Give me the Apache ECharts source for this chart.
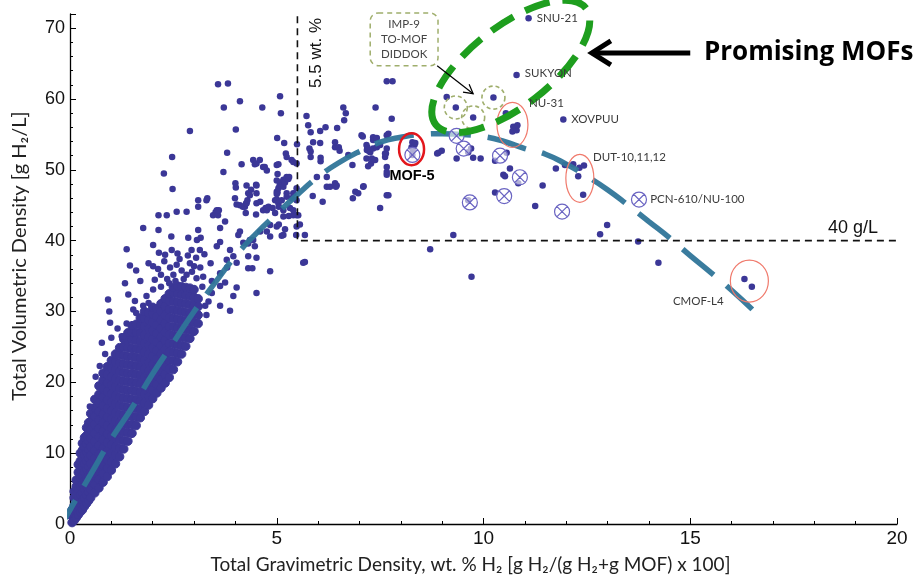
<!DOCTYPE html>
<html>
<head>
<meta charset="utf-8">
<title>Total volumetric vs gravimetric H2 density of MOFs</title>
<script src="https://cdn.jsdelivr.net/npm/echarts@6/dist/echarts.min.js"></script>
<style>
  html, body { margin: 0; padding: 0; background: #fff; }
  #chart { width: 919px; height: 579px; }
</style>
</head>
<body>
<div id="chart"></div>
<script>
// ── colours ──
const DOT = '#3b3797'
const CROSS = '#6a64c2'
const TREND = '#2f7599'
const GREEN = '#1e9e1e'
const OLIVE = '#9fae6c'
const RED_THIN = '#f07a6c'
const RED = '#e3161c'
const LABEL = '#3a3a3a'

// ── data (x = wt.% H2, y = g H2/L) ──
// dense cloud of screened structures, read column by column
const coreColumns = [
  [0.05, [0.2, 1.1, 2.0]],
  [0.1, [0.5, 1.5, 2.6, 3.7, 4.6]],
  [0.15, [0.9, 2.0, 3.1, 4.2, 5.3, 6.2]],
  [0.2, [1.3, 2.5, 3.7, 4.9, 6.1, 7.3, 8.4]],
  [0.25, [1.7, 2.9, 4.1, 5.3, 6.5, 7.7, 8.9, 10.0]],
  [0.3, [2.0, 3.2, 4.4, 5.6, 6.8, 8.0, 9.2, 10.4, 11.4]],
  [0.35, [2.5, 3.7, 4.9, 6.1, 7.3, 8.5, 9.7, 10.9, 12.2]],
  [0.4, [2.9, 4.1, 5.3, 6.5, 7.7, 8.9, 10.1, 11.3, 12.5, 13.6]],
  [0.45, [3.3, 4.5, 5.7, 6.9, 8.1, 9.3, 10.5, 11.7, 12.9, 14.3]],
  [0.5, [3.7, 4.9, 6.1, 7.3, 8.5, 9.7, 10.9, 12.1, 13.3, 14.5, 15.6]],
  [0.6, [4.4, 5.6, 6.8, 8.0, 9.2, 10.4, 11.6, 12.8, 14.0, 15.2, 16.4, 17.6]],
  [0.7, [5.1, 6.3, 7.5, 8.7, 9.9, 11.1, 12.3, 13.5, 14.7, 15.9, 17.1, 18.3, 19.5]],
  [0.8, [5.9, 7.1, 8.3, 9.5, 10.7, 11.9, 13.1, 14.3, 15.5, 16.7, 17.9, 19.1, 20.3, 21.3]],
  [0.9, [6.7, 7.9, 9.1, 10.3, 11.5, 12.7, 13.9, 15.1, 16.3, 17.5, 18.7, 19.9, 21.1, 22.2]],
  [1.0, [7.6, 8.8, 10.0, 11.2, 12.4, 13.6, 14.8, 16.0, 17.2, 18.4, 19.6, 20.8, 22.0, 23.1]],
  [1.1, [8.5, 9.7, 10.9, 12.1, 13.3, 14.5, 15.7, 16.9, 18.1, 19.3, 20.5, 21.7, 22.9, 24.0]],
  [1.2, [9.5, 10.7, 11.9, 13.1, 14.3, 15.5, 16.7, 17.9, 19.1, 20.3, 21.5, 22.7, 23.9, 24.9]],
  [1.3, [10.6, 11.8, 13.0, 14.2, 15.4, 16.6, 17.8, 19.0, 20.2, 21.4, 22.6, 23.8, 25.0, 26.1]],
  [1.4, [11.7, 12.9, 14.1, 15.3, 16.5, 17.7, 18.9, 20.1, 21.3, 22.5, 23.7, 24.9, 26.0, 27.0]],
  [1.5, [12.8, 14.0, 15.2, 16.4, 17.6, 18.8, 20.0, 21.2, 22.4, 23.6, 24.8, 26.0, 27.1, 28.0]],
  [1.6, [13.9, 15.1, 16.3, 17.5, 18.7, 19.9, 21.1, 22.3, 23.5, 24.7, 25.9, 27.0, 28.2]],
  [1.7, [15.0, 16.2, 17.4, 18.6, 19.8, 21.0, 22.2, 23.4, 24.6, 25.8, 27.0, 28.1, 29.1]],
  [1.8, [15.9, 17.1, 18.3, 19.5, 20.7, 21.9, 23.1, 24.3, 25.5, 26.7, 27.9, 29.0, 30.0]],
  [1.9, [16.8, 18.0, 19.2, 20.4, 21.6, 22.8, 24.0, 25.2, 26.4, 27.6, 28.8, 29.8]],
  [2.0, [17.7, 18.9, 20.1, 21.3, 22.5, 23.7, 24.9, 26.1, 27.3, 28.5, 29.7, 30.6]],
  [2.1, [18.5, 19.7, 20.9, 22.1, 23.3, 24.5, 25.7, 26.9, 28.1, 29.3, 30.4]],
  [2.2, [19.2, 20.4, 21.6, 22.8, 24.0, 25.2, 26.4, 27.6, 28.8, 30.0, 31.1]],
  [2.3, [19.9, 21.1, 22.3, 23.5, 24.7, 25.9, 27.1, 28.3, 29.5, 30.7, 31.8]],
  [2.4, [20.7, 21.9, 23.1, 24.3, 25.5, 26.7, 27.9, 29.1, 30.3, 31.5, 32.5]],
  [2.5, [21.8, 23.0, 24.2, 25.4, 26.6, 27.8, 29.0, 30.2, 31.4, 32.6, 33.4]],
  [2.6, [22.9, 24.1, 25.3, 26.5, 27.7, 28.9, 30.1, 31.3, 32.5, 33.6]],
  [2.7, [24.0, 25.2, 26.4, 27.6, 28.8, 30.0, 31.2, 32.4, 33.5]],
  [2.8, [25.1, 26.3, 27.5, 28.7, 29.9, 31.1, 32.3, 33.4]],
  [2.9, [26.2, 27.4, 28.6, 29.8, 31.0, 32.2, 33.3]],
  [3.0, [27.2, 28.4, 29.6, 30.8, 32.0, 33.1]],
  [3.1, [28.3, 29.5, 30.7, 31.8]],
]

// scattered structures outside the dense cloud
const mofPoints = [
  // x < 2
  [0.48, 16.6], [0.62, 20.8], [0.72, 22.3], [0.77, 25.6], [0.85, 24.0], [0.92, 31.7], [0.95, 30.0],
  [0.97, 28.4], [1.0, 26.3], [1.15, 27.6], [1.25, 26.5], [1.29, 26.5], [1.33, 34.0], [1.37, 28.3],
  [1.37, 38.8], [1.41, 32.4], [1.45, 36.5], [1.53, 30.3], [1.57, 31.5], [1.6, 29.8], [1.6, 35.8],
  [1.7, 34.3], [1.77, 30.8], [1.77, 41.8], [1.85, 32.2], [1.9, 31.2], [1.9, 36.8],
  // 2 – 3.5
  [2.01, 33.1], [2.01, 36.4], [2.01, 39.4], [2.05, 34.5], [2.13, 36.0], [2.14, 41.5], [2.14, 43.6],
  [2.15, 38.3], [2.2, 33.5], [2.2, 35.2], [2.27, 49.5], [2.28, 37.1], [2.3, 38.0], [2.34, 43.6],
  [2.35, 34.6], [2.4, 34.0], [2.42, 36.2], [2.45, 40.6], [2.46, 38.7], [2.47, 51.8], [2.48, 47.3],
  [2.5, 35.2], [2.55, 34.3], [2.58, 36.6], [2.58, 44.1], [2.6, 38.2], [2.65, 37.4], [2.7, 35.8],
  [2.75, 34.6], [2.82, 35.2], [2.82, 44.1], [2.85, 37.9], [2.86, 40.4], [2.9, 36.8], [2.9, 55.5],
  [2.94, 38.7], [2.95, 35.6], [3.0, 36.4], [3.05, 37.6], [3.06, 34.7], [3.07, 40.1], [3.1, 41.5],
  [3.1, 44.8], [3.1, 45.7], [3.14, 38.7], [3.15, 36.2], [3.16, 40.4], [3.2, 33.5], [3.22, 34.9],
  [3.25, 38.1], [3.27, 30.8], [3.3, 29.5], [3.3, 45.7], [3.32, 46.0], [3.35, 31.4], [3.4, 36.8],
  [3.43, 32.6], [3.43, 34.3], [3.46, 43.6],
  // 3.5 – 4.5
  [3.52, 44.0], [3.55, 39.2], [3.55, 44.3], [3.58, 43.6], [3.58, 62.1], [3.6, 44.3], [3.63, 30.8],
  [3.63, 33.6], [3.63, 35.4], [3.63, 39.8], [3.63, 41.8], [3.71, 49.7], [3.72, 58.8], [3.75, 34.1],
  [3.75, 42.7], [3.79, 37.3], [3.8, 36.2], [3.8, 52.4], [3.82, 62.2], [3.87, 30.1], [3.87, 38.7],
  [3.95, 32.2], [3.95, 37.8], [3.99, 46.0], [4.0, 48.1], [4.01, 47.5], [4.01, 55.7], [4.03, 33.4],
  [4.03, 36.9], [4.03, 45.1], [4.07, 40.8], [4.11, 41.3], [4.11, 45.0], [4.11, 59.7], [4.15, 50.8],
  [4.18, 44.8], [4.19, 39.7], [4.23, 44.8], [4.25, 43.9], [4.26, 45.3], [4.27, 45.3], [4.27, 47.8],
  [4.29, 45.7], [4.31, 36.1], [4.31, 37.8], [4.31, 39.6], [4.31, 46.7], [4.35, 40.1], [4.35, 46.4],
  [4.38, 47.2], [4.41, 36.1], [4.43, 40.1], [4.43, 51.4], [4.47, 39.2], [4.47, 50.8],
  // 4.5 – 5.5
  [4.5, 43.7], [4.5, 47.9], [4.51, 32.6], [4.51, 37.6], [4.51, 45.3], [4.51, 46.7], [4.51, 47.8],
  [4.51, 50.9], [4.59, 51.4], [4.6, 41.3], [4.6, 45.5], [4.65, 58.8], [4.67, 44.3], [4.67, 50.4],
  [4.71, 50.4], [4.73, 44.6], [4.76, 41.3], [4.76, 44.3], [4.76, 49.9], [4.8, 44.8], [4.84, 35.7],
  [4.84, 40.6], [4.84, 42.2], [4.9, 44.6], [4.96, 43.9], [4.96, 45.7], [5.0, 42.0], [5.0, 45.8],
  [5.0, 46.6], [5.0, 46.9], [5.0, 48.5], [5.0, 50.7], [5.01, 54.5], [5.02, 46.8], [5.02, 49.4],
  [5.04, 45.3], [5.04, 47.4], [5.04, 50.8], [5.05, 42.3], [5.05, 44.8], [5.07, 47.8], [5.08, 48.2],
  [5.08, 60.4], [5.1, 58.0], [5.12, 40.7], [5.12, 45.7], [5.12, 47.8], [5.16, 40.8], [5.16, 43.4],
  [5.16, 44.3], [5.16, 47.6], [5.16, 48.6], [5.18, 53.8], [5.2, 41.6], [5.2, 48.2], [5.22, 52.3],
  [5.24, 46.2], [5.24, 46.7], [5.24, 48.8], [5.24, 49.0], [5.24, 51.8], [5.28, 48.7], [5.29, 43.5],
  [5.3, 49.0], [5.32, 44.6], [5.36, 46.0], [5.36, 51.4], [5.4, 43.6], [5.4, 44.3], [5.4, 46.7],
  [5.4, 51.1], [5.47, 40.8], [5.48, 42.0], [5.48, 43.6], [5.48, 45.7], [5.48, 47.4], [5.48, 50.9],
  [5.49, 53.6],
  // 5.5 – 7
  [5.52, 43.6], [5.56, 42.3], [5.64, 36.9], [5.68, 37.0], [5.68, 40.8], [5.72, 57.6], [5.76, 56.3],
  [5.79, 53.0], [5.82, 51.8], [5.82, 52.6], [5.82, 55.3], [5.87, 46.3], [5.88, 53.9], [5.97, 49.0],
  [6.05, 53.8], [6.05, 55.5], [6.06, 51.2], [6.06, 51.7], [6.11, 45.5], [6.18, 56.0], [6.21, 47.6],
  [6.21, 49.0], [6.29, 47.6], [6.41, 48.1], [6.41, 53.2], [6.41, 53.9], [6.43, 47.6], [6.45, 47.8],
  [6.46, 55.9], [6.5, 53.2], [6.52, 52.7], [6.61, 58.8], [6.63, 57.0], [6.67, 58.0], [6.73, 52.1],
  [6.83, 50.7], [6.84, 46.0], [6.9, 46.9], [6.97, 46.7],
  // 7 – 8.5
  [7.05, 54.9], [7.08, 54.7], [7.09, 47.6], [7.1, 47.7], [7.17, 51.6], [7.17, 53.5], [7.18, 52.8],
  [7.19, 53.2], [7.21, 50.5], [7.22, 52.7], [7.26, 52.5], [7.28, 50.9], [7.3, 51.6], [7.33, 53.0],
  [7.33, 54.2], [7.33, 54.6], [7.38, 51.4], [7.39, 58.8], [7.42, 53.2], [7.42, 54.5], [7.5, 44.6],
  [7.5, 53.5], [7.62, 51.8], [7.62, 52.3], [7.64, 52.3], [7.66, 46.4], [7.66, 49.3], [7.66, 49.7],
  [7.66, 50.4], [7.66, 53.0], [7.66, 54.9], [7.66, 62.5], [7.7, 46.4], [7.7, 55.1], [7.78, 57.2],
  [7.8, 62.5],
  [8.26, 53.2], [8.28, 52.1], [8.28, 53.9], [8.29, 52.8], [8.33, 53.5], [8.35, 53.8],
  // 8.5 – 17
  [8.71, 38.8], [8.88, 52.3], [8.91, 52.4], [8.99, 52.7], [9.11, 60.3], [9.27, 40.8], [9.33, 58.8],
  [9.35, 51.6], [9.63, 45.7], [9.63, 52.5], [9.7, 53.0], [9.71, 34.9], [9.75, 51.7], [9.75, 57.4],
  [9.93, 51.6], [10.24, 60.2], [10.28, 46.8], [10.28, 51.3], [10.48, 49.3], [10.52, 49.1],
  [10.54, 58.0], [10.56, 52.4], [10.64, 50.2], [10.7, 55.4], [10.72, 56.1], [10.8, 55.6],
  [10.8, 63.4], [10.82, 56.3], [10.84, 48.1], [11.09, 71.4], [11.25, 44.9], [11.43, 47.8],
  [11.75, 50.2], [11.93, 57.1], [11.97, 50.7], [12.17, 50.8], [12.29, 49.1], [12.32, 50.3],
  [12.41, 46.5], [12.43, 50.6], [12.82, 40.9], [12.99, 42.2], [13.74, 39.9], [14.23, 36.9],
  [16.31, 34.6], [16.49, 33.5],
]

// benchmark materials drawn as crossed circles
const benchmarkPoints = [
  [8.28, 52.1], [9.35, 54.8], [9.52, 53.0], [10.4, 52.0], [10.88, 48.95],
  [10.5, 46.3], [9.67, 45.4], [11.9, 44.1], [13.76, 45.8],
]

// IMP-9, TO-MOF, DIDDOK (dashed olive rings)
const flaggedPoints = [[9.33, 58.8], [9.75, 57.4], [10.24, 60.2]]

// fitted upper-bound trend (dashed teal curve)
const trendCurve = [
  [-0.35, -1.6], [0, 2], [0.5, 7], [1, 12], [1.5, 16.4], [2, 21.2], [2.5, 25.6], [3, 30],
  [3.5, 34], [4, 37.8], [4.5, 41], [5, 43.8], [5.5, 46.5], [6, 49], [6.5, 51], [7, 52.6],
  [7.5, 53.9], [8, 54.6], [8.5, 55], [9, 55.1], [9.5, 55], [10, 54.7], [10.5, 54], [11, 53],
  [11.5, 52.2], [12, 50.8], [12.5, 49.1], [13, 47.2], [13.5, 45], [14, 42.7], [14.5, 40.4],
  [15, 37.9], [15.5, 35.5], [16, 33], [16.5, 30.3],
]

// targets: 5.5 wt.% and 40 g/L
const targetPath = [[5.5, 71.7], [5.5, 40], [20.2, 40]]

const coreData = []
coreColumns.forEach(([x, ys]) => ys.forEach((y) => coreData.push([x, y])))

// crossed circle symbol
const CROSSED = 'path://M10 0A10 10 0 1 1 10 20A10 10 0 1 1 10 0ZM2.93 2.93L17.07 17.07M17.07 2.93L2.93 17.07'

const chart = echarts.init(document.getElementById('chart'))

const axisCommon = {
  type: 'value',
  axisLine: { show: true, onZero: false, lineStyle: { color: '#000', width: 1.3 } },
  axisTick: { show: true, inside: true, length: 6, lineStyle: { color: '#000', width: 1 } },
  minorTick: { show: true, splitNumber: 5, length: 3, lineStyle: { color: '#000', width: 1 } },
  splitLine: { show: false },
  nameLocation: 'middle',
}

chart.setOption({
  animation: false,
  backgroundColor: '#fff',
  grid: { left: 70, right: 22, top: 14, bottom: 53 },
  xAxis: {
    ...axisCommon,
    min: 0, max: 20, interval: 5,
    axisLabel: { color: '#111', fontFamily: 'Liberation Sans', fontSize: 19, margin: 5 },
    name: 'Total Gravimetric Density, wt. % H\u2082 [g H\u2082/(g H\u2082+g MOF) x 100]',
    nameGap: 31,
    nameTextStyle: { fontFamily: 'Lato', fontSize: 19, color: '#222', padding: [0, 26, 0, 0] },
  },
  yAxis: {
    ...axisCommon,
    min: 0, max: 72, interval: 10,
    axisLabel: {
      color: '#111', fontFamily: 'Liberation Sans', fontSize: 18, margin: 5,
      formatter: (v) => (v % 10 === 0 ? String(v) : ''),
    },
    name: 'Total Volumetric Density [g H\u2082/L]',
    nameGap: 40,
    nameTextStyle: { fontFamily: 'Lato', fontSize: 20, color: '#222', padding: [0, 0, 0, 26] },
  },
  series: [
    {
      name: 'core',
      type: 'scatter',
      data: coreData,
      symbolSize: 8.5,
      itemStyle: { color: DOT, opacity: 1, borderColor: DOT, borderWidth: 1 },
      z: 2,
    },
    {
      name: 'mofs',
      type: 'scatter',
      data: mofPoints,
      symbolSize: 6.5,
      itemStyle: { color: DOT, opacity: 1 },
      z: 2,
    },
    {
      name: 'trend',
      type: 'line',
      data: trendCurve,
      smooth: true,
      showSymbol: false,
      clip: false,
      lineStyle: { color: TREND, width: 5.5, type: [40, 17], cap: 'butt', opacity: 0.95 },
      z: 3,
    },
    {
      name: 'targets',
      type: 'line',
      data: targetPath,
      showSymbol: false,
      clip: false,
      lineStyle: { color: '#111', width: 1.6, type: [7, 5] },
      z: 4,
    },
    {
      name: 'benchmarks',
      type: 'scatter',
      data: benchmarkPoints,
      symbol: CROSSED,
      symbolSize: 15,
      itemStyle: { color: 'rgba(255,255,255,0.6)', borderColor: CROSS, borderWidth: 1.2, opacity: 1 },
      z: 5,
    },
    {
      name: 'flagged',
      type: 'scatter',
      data: flaggedPoints,
      symbolSize: 23,
      itemStyle: { color: 'transparent', borderColor: OLIVE, borderWidth: 1.6, borderType: [4, 3], opacity: 1 },
      z: 5,
    },
  ],
})

// ── annotations, anchored in data coordinates ──
const px = (p) => chart.convertToPixel({ gridIndex: 0 }, p)

const redRings = [
  { at: [10.70, 56.35], rx: 15.5, ry: 22.5, color: RED_THIN, width: 1.2 },
  { at: [8.26, 52.9], rx: 12.5, ry: 16, color: RED, width: 2.5 },
  { at: [12.33, 48.8], rx: 14, ry: 24, color: RED_THIN, width: 1.2 },
  { at: [16.43, 34.3], rx: 19, ry: 21, color: RED_THIN, width: 1.2 },
]

const mofLabels = [
  { text: 'SNU-21', at: [11.29, 71.45] },
  { text: 'SUKYON', at: [11.0, 63.6] },
  { text: 'NU-31', at: [11.1, 59.4] },
  { text: 'XOVPUU', at: [12.12, 57.2] },
  { text: 'DUT-10,11,12', at: [12.65, 51.7] },
  { text: 'PCN-610/NU-100', at: [14.03, 45.9] },
  { text: 'CMOF-L4', at: [14.58, 31.4] },
]

function arrowHead(tip, from, len, half) {
  const dx = tip[0] - from[0]
  const dy = tip[1] - from[1]
  const d = Math.hypot(dx, dy)
  const ux = dx / d, uy = dy / d
  const bx = tip[0] - ux * len, by = tip[1] - uy * len
  return [[bx - uy * half, by + ux * half], tip, [bx + uy * half, by - ux * half]]
}

function textEl(text, at, style, extra) {
  const [x, y] = px(at)
  return Object.assign({
    type: 'text', x, y, z: 30,
    style: Object.assign({
      text, fill: LABEL, fontFamily: 'Lato', fontSize: 11.5,
      align: 'left', textAlign: 'left', verticalAlign: 'middle', textVerticalAlign: 'middle',
    }, style),
  }, extra || {})
}

function buildAnnotations() {
  const els = []

  redRings.forEach((r) => {
    const [x, y] = px(r.at)
    els.push({
      type: 'ellipse', x, y, z: 20,
      shape: { cx: 0, cy: 0, rx: r.rx, ry: r.ry },
      style: { fill: 'none', stroke: r.color, lineWidth: r.width },
    })
  })

  // "promising" region
  const [gx, gy] = px([10.66, 64.6])
  els.push({
    type: 'ellipse', x: gx, y: gy, rotation: 0.66, z: 25,
    shape: { cx: 0, cy: 0, rx: 95, ry: 40 },
    style: { fill: 'none', stroke: GREEN, lineWidth: 7, lineDash: [26, 13] },
  })

  mofLabels.forEach((l) => els.push(textEl(l.text, l.at)))

  els.push(textEl('MOF-5', [8.27, 49.1], {
    fill: '#000', fontFamily: 'Liberation Sans', fontWeight: 'bold', fontSize: 14.5,
    align: 'center', textAlign: 'center',
  }))

  // target labels
  els.push(textEl('5.5 wt. %', [5.95, 66.5], {
    fill: '#111', fontFamily: 'Liberation Sans', fontSize: 17, align: 'center', textAlign: 'center',
  }, { rotation: Math.PI / 2 }))
  els.push(textEl('40 g/L', [18.33, 41.8], {
    fill: '#111', fontFamily: 'Liberation Sans', fontSize: 18,
  }))

  // big arrow + caption
  const tail = px([15.0, 66.5])
  const tip = px([12.62, 66.5])
  els.push({
    type: 'polyline', z: 30,
    shape: { points: [tail, tip] },
    style: { stroke: '#000', lineWidth: 5, fill: 'none' },
  })
  els.push({
    type: 'polyline', z: 30,
    shape: { points: arrowHead(tip, tail, 19, 12) },
    style: { stroke: '#000', lineWidth: 5, fill: 'none', lineJoin: 'miter' },
  })
  els.push(textEl('Promising MOFs', [15.33, 66.5], {
    fill: '#000', fontFamily: 'Open Sans', fontWeight: 'bold', fontSize: 26,
  }))

  // olive call-out box
  const boxTL = px([7.26, 72.15])
  const boxBR = px([8.9, 64.7])
  els.push({
    type: 'rect', z: 30,
    shape: { x: boxTL[0], y: boxTL[1], width: boxBR[0] - boxTL[0], height: boxBR[1] - boxTL[1], r: 8 },
    style: { fill: '#fff', stroke: OLIVE, lineWidth: 1.5, lineDash: [5, 4] },
  })
  els.push(textEl('IMP-9\nTO-MOF\nDIDDOK', [8.08, 68.36], {
    fill: '#444', fontSize: 11.5, lineHeight: 15, align: 'center', textAlign: 'center',
  }))
  const from = px([8.88, 64.7])
  const to = px([9.75, 60.75])
  els.push({
    type: 'polyline', z: 30,
    shape: { points: [from, to] },
    style: { stroke: '#000', lineWidth: 1.2, fill: 'none' },
  })
  els.push({
    type: 'polyline', z: 30,
    shape: { points: arrowHead(to, from, 9, 5) },
    style: { stroke: '#000', lineWidth: 1.2, fill: 'none' },
  })

  return els
}

chart.setOption({ graphic: { elements: buildAnnotations() } })
</script>
</body>
</html>
